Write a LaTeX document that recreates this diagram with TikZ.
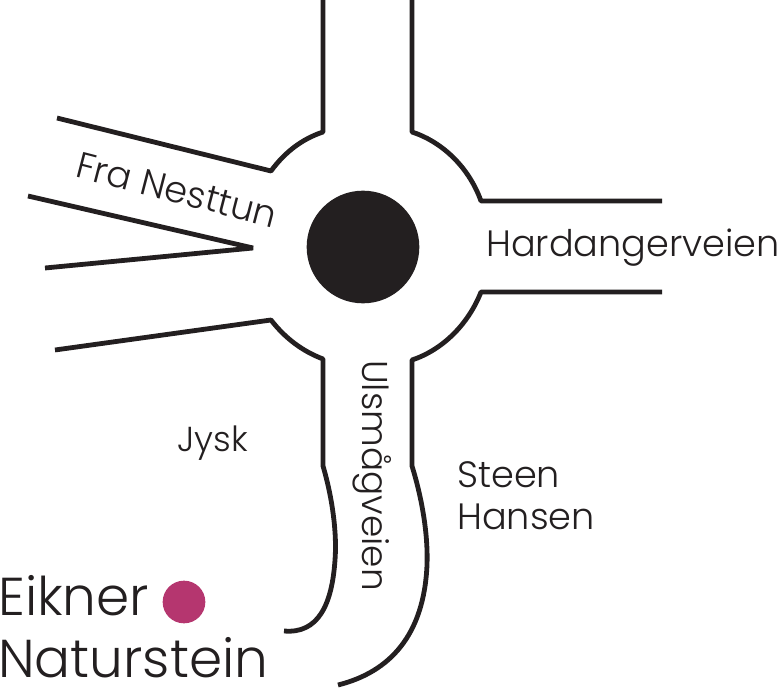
\documentclass[tikz,border=0pt]{standalone}
\usepackage{fontspec}
\setmainfont{Poppins}[UprightFont=* Light]
\definecolor{roadcol}{HTML}{231F20}
\definecolor{markcol}{HTML}{B5366F}
\tikzset{road/.style={line width=3.6pt,roadcol,line join=bevel},
  lbl/.style={text=roadcol,font=\fontsize{27.5}{30}\selectfont,inner sep=0pt},
  biglbl/.style={lbl,font=\fontsize{40}{44}\selectfont}}
\begin{document}
\begin{tikzpicture}[x=1pt,y=-1pt,scale=0.75]
    \useasboundingbox (0,0) rectangle (779,688);
    \draw[road] (323,0) -- (323,132) .. controls (302,139) and (285,152) .. (271,171) -- (57,118);
    \draw[road] (412,0) -- (412,132) .. controls (440,141) and (468,165) .. (481,201) -- (662,201);
    \draw[road] (28,196) -- (253,248) -- (45,268);
    \draw[road] (55,350) -- (271,320) .. controls (285,338) and (302,351) .. (323,359) -- (323,466) .. controls (333,500) and (337,535) .. (335,560) .. controls (332,605) and (318,634) .. (284,631);
    \draw[road] (662,292) -- (481,292) .. controls (468,325) and (442,350) .. (412,360) -- (412,466) .. controls (424,505) and (428,540) .. (427,565) .. controls (424,635) and (390,672) .. (338,685);
    \node[circle,fill=roadcol,minimum size=84.5pt,inner sep=0pt] (hub) at (363,247) {};
    \node[circle,fill=markcol,minimum size=32pt,inner sep=0pt] (mark) at (184,602) {};
    \node[lbl,rotate=-14.5] (fra) at (177,190) {Fra Nesttun};
    \node[lbl,anchor=base west] (hard) at (486,257) {Hardangerveien};
    \node[lbl,font=\fontsize{26.9}{30}\selectfont,rotate=-90,anchor=base west] (ulsm) at (362,360) {Ulsmågveien};
    \node[lbl,font=\fontsize{26}{30}\selectfont,anchor=base west] (jysk) at (177,451) {Jysk};
    \node[lbl,anchor=base west] (steen) at (457,487) {Steen};
    \node[lbl,anchor=base west] (hansen) at (457,529) {Hansen};
    \node[biglbl,anchor=base west] (eikner) at (-2,615) {Eikner};
    \node[biglbl,anchor=base west] (natur) at (-2,677) {Naturstein};
\end{tikzpicture}
\end{document}
